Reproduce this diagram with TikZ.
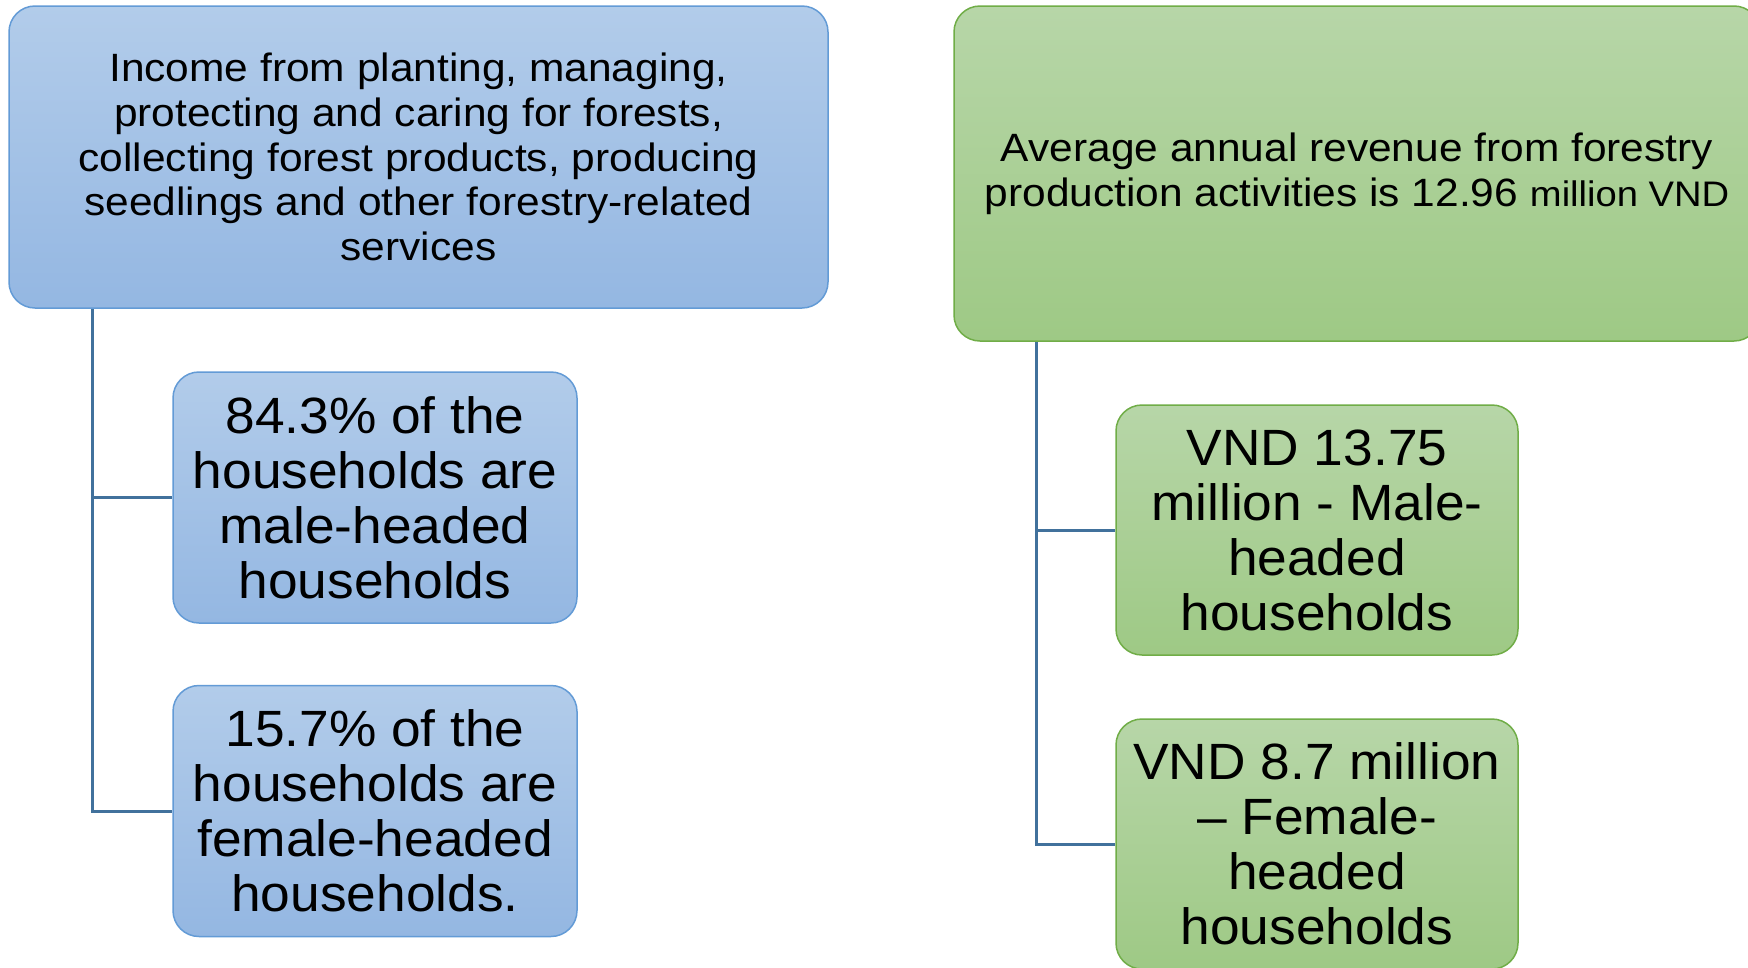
\documentclass[tikz,border=0pt]{standalone}
\usepackage{fontspec}
\setmainfont{Liberation Sans}[FakeStretch=1.075]
\newfontfamily\bigfont{Liberation Sans}[FakeStretch=1.045]
\usetikzlibrary{shadings}
\definecolor{bTop}{RGB}{178,204,234}
\definecolor{bBot}{RGB}{148,183,226}
\definecolor{bLine}{RGB}{99,155,214}
\definecolor{gTop}{RGB}{183,214,168}
\definecolor{gBot}{RGB}{158,201,133}
\definecolor{gLine}{RGB}{112,173,71}
\definecolor{cLine}{RGB}{65,113,156}
\tikzset{
  bluebox/.style={draw=bLine, line width=1.5pt, top color=bTop, bottom color=bBot, rounded corners=26pt, align=center, inner sep=0pt},
  greenbox/.style={draw=gLine, line width=1.5pt, top color=gTop, bottom color=gBot, rounded corners=26pt, align=center, inner sep=0pt},
  conn/.style={draw=cLine, line width=3pt},
  midtext/.style={font=\fontsize{39.5}{44.6}\selectfont},
  bigtext/.style={font=\bigfont\fontsize{51}{55}\selectfont}
}
\begin{document}
\begin{tikzpicture}[x=1pt,y=-1pt]
\clip (0,0) rectangle (1748,967);
\fill[white] (0,0) rectangle (1748,967);
% left group
\node[bluebox, midtext, minimum width=819pt, minimum height=302pt] (tl) at (418.5,157)
  {Income from planting, managing,\\protecting and caring for forests,\\collecting forest products, producing\\seedlings and other forestry-related\\services};
\node[bluebox, bigtext, minimum width=404pt, minimum height=251pt] (b1) at (375,497.5)
  {84.3\% of the\\households are\\male-headed\\households};
\node[bluebox, bigtext, minimum width=404pt, minimum height=251pt] (b2) at (375,811)
  {15.7\% of the\\households are\\female-headed\\households.};
\coordinate (ls) at (92,309);
\draw[conn] (ls) |- (b1.west);
\draw[conn] (ls) |- (b2.west);
% right group
\node[greenbox, midtext, minimum width=806pt, minimum height=335pt] (tr) at (1357,173.5)
  {Average annual revenue from forestry\\production activities is 12.96 {\fontsize{35.5}{44.6}\selectfont million VND}};
\node[greenbox, bigtext, minimum width=402pt, minimum height=250pt] (g1) at (1317,530)
  {VND 13.75\\million - Male-\\headed\\households};
\node[greenbox, bigtext, minimum width=402pt, minimum height=250pt] (g2) at (1317,844)
  {VND 8.7 million\\– Female-\\headed\\households};
\coordinate (rs) at (1036,342);
\draw[conn] (rs) |- (g1.west);
\draw[conn] (rs) |- (g2.west);
\end{tikzpicture}
\end{document}
